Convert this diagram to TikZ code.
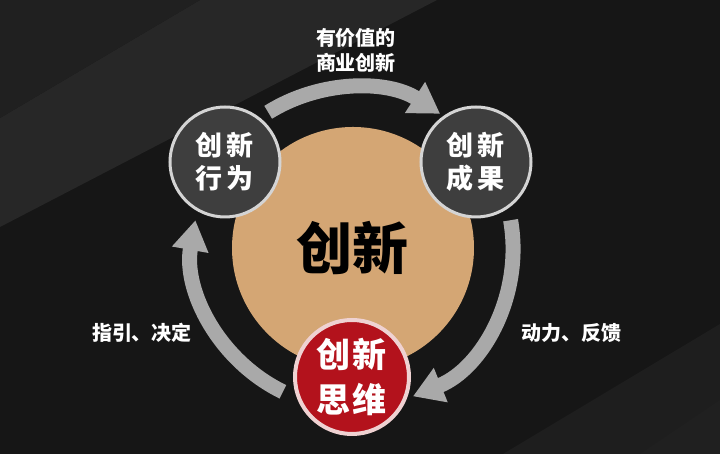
\documentclass[tikz,border=0pt]{standalone}
\usepackage{fontspec}
\newfontfamily\cjk{Noto Sans CJK SC}
\newfontfamily\cjkheavy{Noto Sans CJK SC Black}
\usetikzlibrary{positioning,arrows.meta}
\definecolor{bgdark}{HTML}{161616}
\definecolor{bgband}{HTML}{272727}
\definecolor{bgcorner}{HTML}{202020}
\definecolor{bglow}{HTML}{1E1E1E}
\definecolor{tan}{HTML}{D4A674}
\definecolor{stagegray}{HTML}{3E3E3E}
\definecolor{ringgray}{HTML}{D4D4D4}
\definecolor{thinkred}{HTML}{B3121C}
\definecolor{ringpink}{HTML}{EFD2D2}
\definecolor{flowgray}{HTML}{A9A9A9}
\tikzset{
  core/.style={circle, fill=tan, minimum size=121pt, inner sep=0pt, font=\cjkheavy\fontsize{28}{30}\selectfont},
  stage/.style={circle, draw=ringgray, line width=1.5pt, fill=stagegray, minimum size=55pt, inner sep=0pt, align=center, text=white, font=\cjk\bfseries\fontsize{13.5}{16.5}\selectfont},
  thinking/.style={stage, draw=ringpink, line width=2pt, fill=thinkred, minimum size=57pt, font=\cjk\bfseries\fontsize{17}{22.5}\selectfont},
  flow/.style={draw=flowgray, line width=7.5pt, -{Triangle[length=15pt, width=17.5pt]}},
  note/.style={text=white, align=center, font=\cjk\bfseries\fontsize{10}{12.5}\selectfont}
}
\begin{document}
\begin{tikzpicture}[x=0.5pt, y=0.5pt]
  \useasboundingbox (0,0) rectangle (720,454);
  % background panels
  \fill[bgdark] (0,0) rectangle (720,454);
  \fill[bgband] (0,227) -- (0,336) -- (200,454) -- (437,454) -- cycle;
  \fill[bgcorner] (0,336) -- (0,454) -- (200,454) -- cycle;
  \fill[bglow] (503,0) -- (720,130) -- (720,0) -- cycle;
  \fill[bgcorner] (640,0) -- (720,54) -- (720,0) -- cycle;

  \node[core] (core) at (353,206) {创新};

  % the cycle
  \draw[flow] ([shift={(122:80pt)}]core.center) arc[start angle=122, end angle=57, radius=80pt];
  \draw[flow] ([shift={(10:80pt)}]core.center) arc[start angle=10, end angle=-68, radius=80pt];
  \draw[flow] ([shift={(244:80pt)}]core.center) arc[start angle=244, end angle=170, radius=80pt];

  \node[stage] (act) at (225,292) {创\hspace{2pt}新\\行\hspace{2pt}为};
  \node[stage] (result) at (476,292) {创\hspace{2pt}新\\成\hspace{2pt}果};
  \node[thinking] (think) at (352,77) {创\hspace{1pt}新\\思\hspace{1pt}维};

  \node[note] (value) at (356,404) {有价值的\\商业创新};
  \node[note] (guide) at (142,121) {指引、决定};
  \node[note] (drive) at (572,121) {动力、反馈};
\end{tikzpicture}
\end{document}
